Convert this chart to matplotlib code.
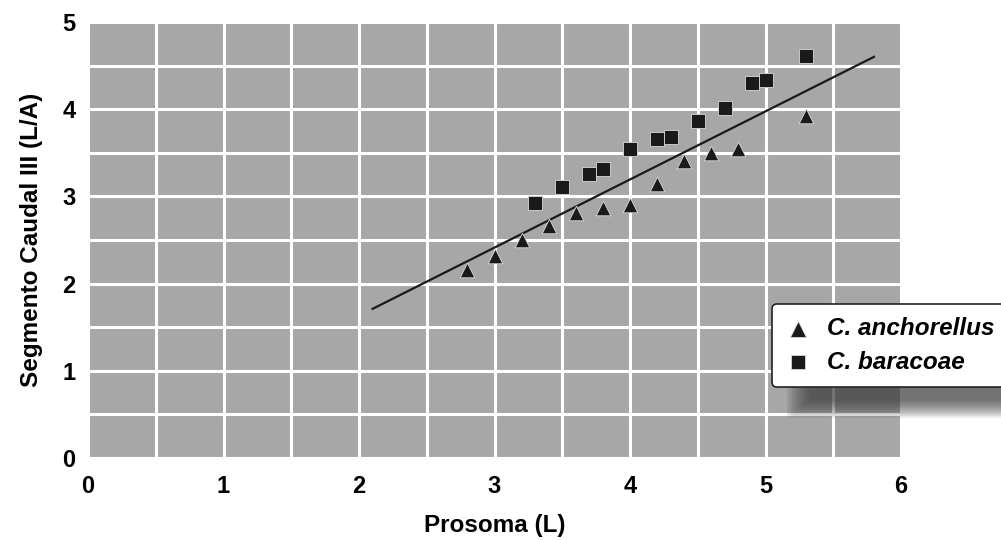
import matplotlib
matplotlib.use("Agg")
import matplotlib.pyplot as plt
from matplotlib.patches import FancyBboxPatch

plt.rcParams["font.family"] = ["Liberation Sans", "DejaVu Sans"]

# %% data
anch_x = [2.8, 3.0, 3.2, 3.4, 3.6, 3.8, 4.0, 4.2, 4.4, 4.6, 4.8, 5.3]
anch_y = [2.16, 2.32, 2.50, 2.66, 2.81, 2.87, 2.90, 3.14, 3.41, 3.50, 3.54, 3.92]

bara_x = [3.3, 3.5, 3.7, 3.8, 4.0, 4.2, 4.3, 4.5, 4.7, 4.9, 5.0, 5.3]
bara_y = [2.93, 3.11, 3.26, 3.31, 3.54, 3.66, 3.68, 3.86, 4.01, 4.30, 4.34, 4.61]

fit_x = [2.1, 5.8]
fit_y = [1.71, 4.60]

x_ticks = [0, 1, 2, 3, 4, 5, 6]
y_ticks = [0, 1, 2, 3, 4, 5]

# %% figure
fig = plt.figure(figsize=(10.01, 5.40), dpi=100)
ax = fig.add_axes([88 / 1001, 1 - 458 / 540, (901 - 88) / 1001, (458 - 22) / 540])
ax.set_facecolor("#a7a7a7")

ax.set_xlim(0, 6)
ax.set_ylim(0, 5)
ax.set_xticks([i * 0.5 for i in range(13)], minor=True)
ax.set_yticks([i * 0.5 for i in range(11)], minor=True)
ax.set_xticks(x_ticks)
ax.set_yticks(y_ticks)
ax.grid(True, which="both", color="white", lw=2.2)
ax.set_axisbelow(True)
for s in ax.spines.values():
    s.set_visible(False)
ax.tick_params(which="both", length=0)
ax.tick_params(axis="x", pad=12, labelsize=17)
ax.tick_params(axis="y", pad=9, labelsize=17)
for lab in ax.get_xticklabels() + ax.get_yticklabels():
    lab.set_fontweight("bold")

ax.plot(fit_x, fit_y, color="#1a1a1a", lw=1.6, zorder=3)
ax.scatter(anch_x, anch_y, marker="^", s=10.5 ** 2, color="#1a1a1a",
           edgecolors="#d8d8d8", linewidths=0.6, zorder=4, label="C. anchorellus")
ax.scatter(bara_x, bara_y, marker="s", s=9.5 ** 2, color="#1a1a1a",
           edgecolors="#d8d8d8", linewidths=0.6, zorder=4, label="C. baracoae")

ax.set_xlabel("Prosoma (L)", fontsize=17.5, fontweight="bold", labelpad=12)
ax.set_ylabel("Segmento Caudal III (L/A)", fontsize=17.5, fontweight="bold", labelpad=14)

# blurred shadow behind legend
for i in range(10):
    sh = FancyBboxPatch((792 / 1001 + i * 0.0025, 1 - 415 / 540 + i * 0.0035),
                        0.3, 0.15 - i * 0.007, boxstyle="round,pad=0.005",
                        transform=fig.transFigure, facecolor="#383838",
                        edgecolor="none", alpha=0.11, zorder=5)
    fig.add_artist(sh)

leg = fig.legend(loc="upper left", bbox_to_anchor=(772 / 1001, 1 - 304 / 540),
                 borderaxespad=0,
                 prop={"size": 17.5, "style": "italic", "weight": "bold"},
                 frameon=True, fancybox=True, framealpha=1, edgecolor="#222222",
                 handletextpad=0.7, labelspacing=0.42, borderpad=0.55,
                 handlelength=1.0, scatterpoints=1, markerscale=1.1)
leg.get_frame().set_linewidth(1.2)
leg.set_zorder(10)

fig.savefig("out.png", dpi=100)
